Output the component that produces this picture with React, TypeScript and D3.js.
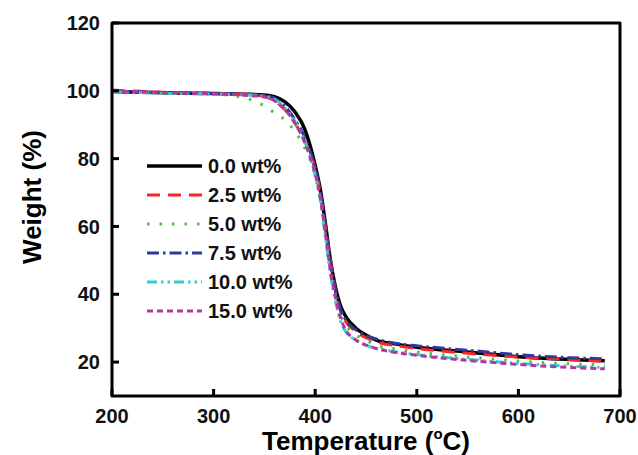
import React from 'react';
import * as d3 from 'd3';

// temperature grid (°C) shared by all series
const temps = [200, 250, 300, 330, 350, 360, 370, 380, 390, 400, 405, 410, 415, 420, 425, 430, 440, 450, 460, 480, 500, 550, 600, 650, 685];

const wt00 = [99.8, 99.4, 99.2, 99.0, 98.8, 98.3, 96.8, 93.8, 88.5, 78, 71, 61, 50, 42, 36.5, 33.5, 30, 28, 26.5, 25.3, 24.4, 23, 21.6, 20.8, 20.4];
const wt25 = [100.2, 99.6, 99.3, 99.0, 98.3, 97.0, 94.5, 90.5, 85, 77, 70, 60, 50, 41, 35, 32, 29, 27.2, 26, 24.8, 24, 22.6, 21.5, 20.8, 20.2];
const wt50 = [99.9, 99.4, 99.0, 98.0, 95.5, 93.5, 91.5, 88, 83, 75, 68, 58, 48, 40, 34, 31, 28, 26.5, 25, 23.8, 23, 21.5, 20.3, 19.5, 19.2];
const wt75 = [99.9, 99.5, 99.2, 99.0, 98.6, 97.8, 95.5, 91.5, 86, 77, 70, 60, 49, 41, 35.5, 32.5, 29.5, 27.8, 26.8, 25.5, 24.8, 23.5, 22.2, 21.3, 21.0];
const wt100 = [99.7, 99.3, 99.0, 98.8, 98.4, 97.5, 95, 91, 85, 75, 68, 57, 46, 38, 32, 29, 26.5, 25, 24, 23, 22.2, 20.8, 19.6, 18.8, 18.4];
const wt150 = [100.0, 99.5, 99.1, 98.7, 98.2, 97, 94.5, 90.5, 84.5, 75.5, 68.5, 58, 47, 39, 33, 29.5, 26.5, 25, 24, 22.8, 22, 20.5, 19.3, 18.4, 18.0];

const labels = ['0.0 wt%', '2.5 wt%', '5.0 wt%', '7.5 wt%', '10.0 wt%', '15.0 wt%'];
const values = [wt00, wt25, wt50, wt75, wt100, wt150];

const xTicks = [200, 300, 400, 500, 600, 700];
const yTicks = [20, 40, 60, 80, 100, 120];

const styles = [
  { color: '#000000', dash: '', width: 3.5 },
  { color: '#ff2424', dash: '13,8', width: 3 },
  { color: '#55bb44', dash: '2.5,10', width: 3 },
  { color: '#2e3a9a', dash: '12,4,2.5,4', width: 3 },
  { color: '#33cccc', dash: '10,4,2.5,4,2.5,4', width: 3 },
  { color: '#b8349f', dash: '6,4', width: 3 },
];

const W = 638;
const H = 455;
const margin = { left: 112, right: 18, top: 23, bottom: 59 };
const font = 'Liberation Sans, Arial, sans-serif';

export default function App() {
  const x = d3.scaleLinear().domain([200, 700]).range([margin.left, W - margin.right]);
  const y = d3.scaleLinear().domain([10, 120]).range([H - margin.bottom, margin.top]);

  const line = d3.line<number>()
    .x((_, i) => x(temps[i]))
    .y(d => y(d))
    .curve(d3.curveMonotoneX);

  const x0 = x(200), x1 = x(700), y0 = y(10), y1 = y(120);

  return (
    <svg width={W} height={H} style={{ position: 'absolute', left: 0, top: 0, background: '#fff' }}>
      {/* curves */}
      {values.map((v, i) => (
        <path key={labels[i]} d={line(v) || ''} fill="none"
          stroke={styles[i].color} strokeWidth={styles[i].width}
          strokeDasharray={styles[i].dash} />
      ))}

      {/* frame */}
      <rect x={x0} y={y1} width={x1 - x0} height={y0 - y1} fill="none"
        stroke="#000" strokeWidth={3} strokeLinejoin="round" />

      {/* y ticks */}
      {yTicks.map(t => (
        <g key={'y' + t}>
          <line x1={x0} x2={x0 + 7} y1={y(t)} y2={y(t)} stroke="#000" strokeWidth={3} />
          <text x={x0 - 12} y={y(t)} dy="0.36em" textAnchor="end" fontFamily={font}
            fontWeight="bold" fontSize={20} fill="#111">{t}</text>
        </g>
      ))}

      {/* x ticks */}
      {xTicks.map(t => (
        <g key={'x' + t}>
          <line x1={x(t)} x2={x(t)} y1={y0} y2={y0 - 7} stroke="#000" strokeWidth={3} />
          <text x={x(t)} y={y0 + 27} textAnchor="middle" fontFamily={font}
            fontWeight="bold" fontSize={20} fill="#111">{t}</text>
        </g>
      ))}

      {/* axis titles */}
      <text transform={`translate(41, ${197}) rotate(-90)`} textAnchor="middle"
        fontFamily={font} fontWeight="bold" fontSize={26} fill="#000">Weight (%)</text>
      <text x={(x0 + x1) / 2} y={450} textAnchor="middle" fontFamily={font}
        fontWeight="bold" fontSize={26} fill="#000">
        Temperature (<tspan fontSize={15} dy={-11}>o</tspan><tspan dy={11}>C)</tspan>
      </text>

      {/* legend */}
      {labels.map((lab, i) => {
        const ly = 166 + i * 29;
        return (
          <g key={'lg' + lab}>
            <line x1={147} x2={202} y1={ly} y2={ly} stroke={styles[i].color}
              strokeWidth={styles[i].width} strokeDasharray={styles[i].dash} />
            <text x={208} y={ly} dy="0.36em" fontFamily={font} fontWeight="bold"
              fontSize={20} fill="#111">{lab}</text>
          </g>
        );
      })}
    </svg>
  );
}
